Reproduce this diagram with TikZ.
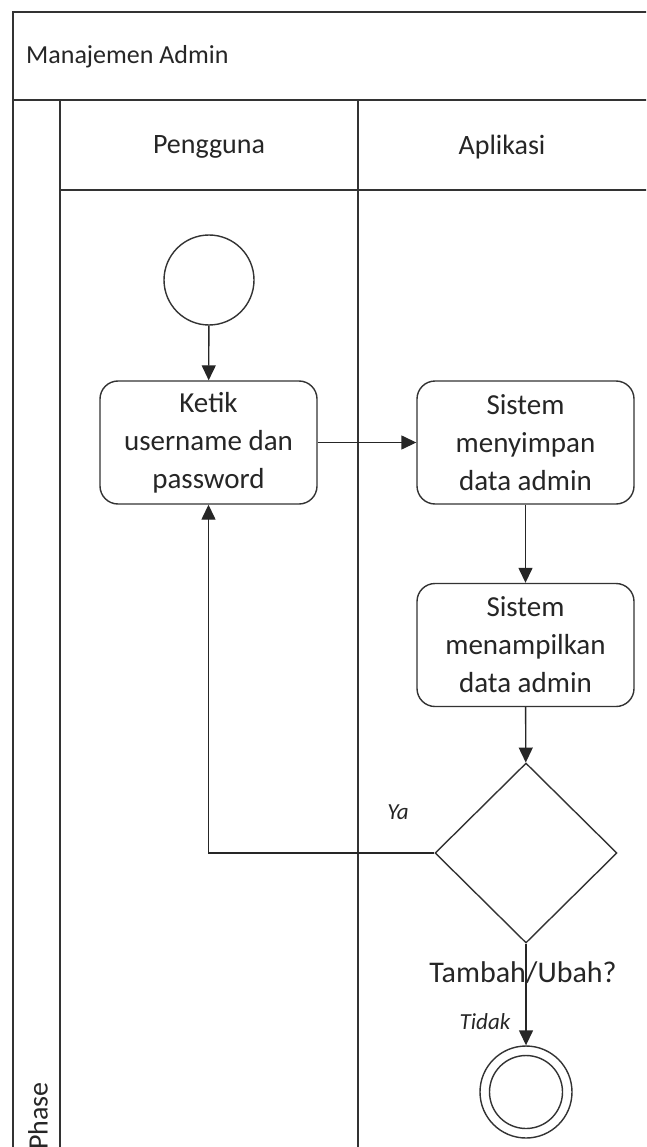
\documentclass[tikz,border=0pt]{standalone}
\usepackage{fontspec}
\setmainfont{Carlito}
\usetikzlibrary{arrows.meta,shapes.geometric}
\begin{document}
\begin{tikzpicture}[x=1pt,y=-1pt,
  lane/.style={line width=1.7pt,draw=black!80},
  txt/.style={text=black!85,font=\fontsize{28}{38}\selectfont,inner sep=0pt},
  lbl/.style={text=black!85,font=\fontsize{23}{27}\selectfont\itshape,inner sep=0pt},
  act/.style={draw=black!80,line width=1.4pt,rounded corners=18pt,fill=white,
    minimum width=217pt,minimum height=123pt,align=center,text=black!85,
    font=\fontsize{29}{38}\selectfont,inner sep=0pt},
  flow/.style={line width=1.4pt,draw=black!85,-{Triangle[length=15pt,width=14pt]}},
  circ/.style={circle,draw=black!80,line width=1.4pt,inner sep=0pt},
]
\useasboundingbox (0,0) rectangle (646,1147);
\fill[white] (0,0) rectangle (646,1147);
\clip (0,0) rectangle (646,1147);

% pool frame, lane header and lane dividers
\draw[lane] (660,12) -- (13,12) -- (13,1160);
\draw[lane] (13,100) -- (660,100);
\draw[lane] (60,100) -- (60,1160);
\draw[lane] (358,100) -- (358,1160);
\draw[lane] (60,190) -- (660,190);

% titles
\node[txt,anchor=west,font=\fontsize{26}{30}\selectfont] (pool) at (26,57) {Manajemen Admin};
\node[txt] (userlane) at (209,147) {Pengguna};
\node[txt] (applane) at (502,147) {Aplikasi};
\node[txt,rotate=90,anchor=west] (phase) at (38,1150) {Phase};

% flow nodes
\node[circ,minimum size=90pt] (start) at (209,280) {};
\node[act] (ketik) at (208.5,442.5) {Ketik\\username dan\\password};
\node[act] (simpan) at (525.5,442.5) {Sistem\\menyimpan\\data admin};
\node[act] (tampil) at (525.5,645) {Sistem\\menampilkan\\data admin};
\node[diamond,draw=black!80,line width=1.4pt,minimum width=182pt,minimum height=180pt,inner sep=0pt] (dec) at (526,853) {};
\node[txt,font=\fontsize{30}{36}\selectfont] (declbl) at (523,973) {Tambah/Ubah?};
\node[circ,minimum size=92pt] (endo) at (526,1092) {};
\node[circ,minimum size=73pt] (endi) at (526,1092) {};

% connectors
\draw[flow] (start) -- (ketik);
\draw[flow] (ketik) -- (simpan);
\draw[flow] (simpan) -- (tampil);
\draw[flow] (tampil) -- (dec);
\draw[flow] (dec.west) -| (ketik.south);
\draw[flow] (dec.south) -- (endo.north);

% branch labels
\node[lbl] (ya) at (398,812) {Ya};
\node[lbl] (tidak) at (485,1022) {Tidak};
\end{tikzpicture}
\end{document}
